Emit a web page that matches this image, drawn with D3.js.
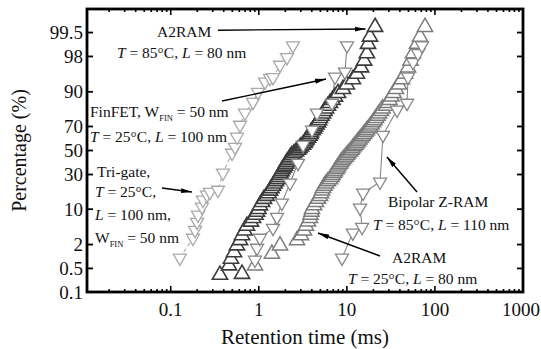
<!DOCTYPE html>
<html>
<head>
<meta charset="utf-8">
<script src="https://cdn.jsdelivr.net/npm/d3@7"></script>
<style>
  body { margin: 0; background: #fff; }
  text { font-family: "Liberation Serif", serif; fill: #111; }
</style>
</head>
<body>
<svg></svg>
<script>
// A2RAM, T = 85°C, L = 80 nm (up triangles, left band)
const a2ram85Time = [0.362, 0.645, 0.459, 0.483, 0.523, 0.565, 0.612, 0.645, 0.689, 0.734,
    0.815, 0.859, 0.917, 0.954, 0.992, 1.03, 1.087, 1.146, 1.223, 1.289,
    1.34, 1.394, 1.449, 1.507, 1.567, 1.631, 1.674, 1.718, 1.764, 1.811,
    1.858, 1.933, 1.984, 2.036, 2.09, 2.175, 2.232, 2.291, 2.383, 2.51,
    2.646, 2.787, 2.899, 3.015, 3.177, 3.304, 3.391, 3.481, 3.621, 3.765,
    3.865, 3.915, 4.072, 4.235, 4.35, 4.52, 4.70, 4.83, 4.95, 5.15,
    5.36, 5.57, 5.80, 6.10, 6.43, 6.87, 7.33, 7.93, 9.04, 10.0,
    11.7, 13.0, 14.5, 15.7, 16.9, 17.4, 18.3, 20.9];
const a2ram85Pct = [0.33, 0.35, 0.6, 0.9, 1.3, 1.9, 2.5, 3.2, 4, 5,
    6, 7, 8, 9, 10, 11.5, 13, 14.5, 16, 17.5,
    19, 20.5, 22, 23.5, 25, 26.5, 28, 29.5, 31, 32.5,
    34, 35.5, 37, 38.5, 40, 41.5, 43, 44.5, 46, 47.5,
    49, 50.5, 52, 53.5, 55, 56.5, 58, 59.5, 61, 62.5,
    64, 65.5, 67, 68.5, 70, 71.5, 73, 74.5, 76, 77.5,
    79, 80.5, 82, 83.5, 85, 86.5, 88, 89.5, 91, 92.5,
    94, 95.3, 96.5, 97.5, 98.3, 99.0, 99.35, 99.65];

// A2RAM, T = 25°C, L = 80 nm (up triangles, right band)
const a2ram25Time = [0.905, 1.41, 1.74, 2.716, 3.015, 3.26, 3.435, 3.62, 3.81, 3.865,
    3.965, 4.02, 4.24, 4.46, 4.70, 4.95, 5.09, 5.22, 5.36, 5.57,
    5.80, 6.10, 6.43, 6.69, 6.87, 7.14, 7.33, 7.63, 7.83, 8.04,
    8.36, 8.58, 8.92, 9.28, 9.65, 10.04, 10.4, 10.9, 11.3, 11.6,
    12.05, 12.5, 13.0, 13.4, 13.9, 14.5, 15.05, 15.65, 16.3, 16.9,
    17.6, 18.3, 19.05, 19.8, 20.6, 21.4, 22.3, 23.2, 24.4, 25.4,
    27.8, 29.3, 30.5, 32.1, 33.9, 36.1, 39.1, 42.3, 45.7, 49.5,
    52.8, 56.4, 62.6, 67.7, 77.1];
const a2ram25Pct = [0.6, 1.2, 1.9, 2.5, 3.2, 4, 5, 6, 7, 8,
    9, 10, 11.5, 13, 14.5, 16, 17.5, 19, 20.5, 22,
    23.5, 25, 26.5, 28, 29.5, 31, 32.5, 34, 35.5, 37,
    38.5, 40, 41.5, 43, 44.5, 46, 47.5, 49, 50.5, 52,
    53.5, 55, 56.5, 58, 59.5, 61, 62.5, 64, 65.5, 67,
    68.5, 70, 71.5, 73, 74.5, 76, 77.5, 79, 80.5, 82,
    83.5, 85, 86.5, 88, 89.5, 91, 92.5, 94, 95.3, 96.5,
    97.5, 98.3, 99.0, 99.35, 99.65];

// Tri-gate, T = 25°C, L = 100 nm, W_FIN = 50 nm
const trigateTime = [0.127, 0.179, 0.189, 0.199, 0.204, 0.226, 0.232, 0.258, 0.279, 0.344,
    0.392, 0.497, 0.537, 0.566, 0.612, 0.697, 0.859, 0.979, 1.176, 1.34,
    1.449, 1.74, 2.09, 2.44];
const trigatePct = [0.95, 2.8, 4.1, 5.9, 7.96, 10.9, 14.0, 16.6, 18.2, 19.4,
    31.2, 47.8, 53.0, 61.6, 71.1, 79.4, 85.5, 89.9, 93.3, 94.3,
    94.5, 96.9, 97.9, 98.9];

// FinFET, W_FIN = 50 nm, T = 25°C, L = 100 nm
const finfetTime = [0.905, 0.954, 1.03, 1.45, 1.61, 1.83, 2.26, 2.79, 3.18, 4.02,
    4.58, 6.78, 7.33, 9.52, 10.04];
const finfetPct = [0.84, 1.66, 2.8, 4.5, 7.3, 12.6, 23.9, 39.2, 54.8, 67.3,
    79.4, 85.0, 94.6, 95.7, 98.9];

// Bipolar Z-RAM, T = 85°C, L = 110 nm
const zramTime = [8.81, 11.7, 14.9, 14.1, 15.3, 23.8, 25.7, 37.1, 48.2, 49.5,
    56.4, 64.2, 71.3];
const zramPct = [0.95, 3.6, 4.7, 10.5, 17.7, 24.6, 63.2, 81.2, 85.0, 94.6,
    97.3, 98.3, 98.9];

const xTicks = [0.1, 1, 10, 100, 1000];
const xTickLabels = ["0.1", "1", "10", "100", "1000"];
const yTicks = [0.1, 0.5, 2, 10, 30, 50, 70, 90, 98, 99.5];
const yTickLabels = ["0.1", "0.5", "2", "10", "30", "50", "70", "90", "98", "99.5"];

// inverse normal CDF (Acklam)
function probit(p) {
    const a = [-3.969683028665376e+01, 2.209460984245205e+02, -2.759285104469687e+02, 1.383577518672690e+02, -3.066479806614716e+01, 2.506628277459239e+00];
    const b = [-5.447609879822406e+01, 1.615858368580409e+02, -1.556989798598866e+02, 6.680131188771972e+01, -1.328068155288572e+01];
    const c = [-7.784894002430293e-03, -3.223964580411365e-01, -2.400758277161838e+00, -2.549732539343734e+00, 4.374664141464968e+00, 2.938163982698783e+00];
    const d = [7.784695709041462e-03, 3.224671290700398e-01, 2.445134137142996e+00, 3.754408661907416e+00];
    const pl = 0.02425;
    let q, r;
    if (p < pl) {
        q = Math.sqrt(-2 * Math.log(p));
        return (((((c[0] * q + c[1]) * q + c[2]) * q + c[3]) * q + c[4]) * q + c[5]) / ((((d[0] * q + d[1]) * q + d[2]) * q + d[3]) * q + 1);
    }
    if (p > 1 - pl) {
        q = Math.sqrt(-2 * Math.log(1 - p));
        return -(((((c[0] * q + c[1]) * q + c[2]) * q + c[3]) * q + c[4]) * q + c[5]) / ((((d[0] * q + d[1]) * q + d[2]) * q + d[3]) * q + 1);
    }
    q = p - 0.5;
    r = q * q;
    return (((((a[0] * r + a[1]) * r + a[2]) * r + a[3]) * r + a[4]) * r + a[5]) * q / (((((b[0] * r + b[1]) * r + b[2]) * r + b[3]) * r + b[4]) * r + 1);
}

const width = 541, height = 349;
const plotLeft = 87, plotRight = 523, plotTop = 9, plotBottom = 292;

const x = d3.scaleLog().domain([0.0112, 1000]).range([plotLeft, plotRight]);
const z = d3.scaleLinear().domain([probit(0.001), probit(0.999)]).range([plotBottom, plotTop]);
const y = p => z(probit(p / 100));

const svg = d3.select("svg")
    .attr("width", width)
    .attr("height", height);

const zip = (t, p) => t.map((v, i) => ({ t: v, p: p[i] }));

const series = [
    { pts: zip(a2ram85Time, a2ram85Pct), up: true, color: "#3c3c3c", sw: 1.6, line: false },
    { pts: zip(a2ram25Time, a2ram25Pct), up: true, color: "#7c7c7c", sw: 1.5, line: false },
    { pts: zip(trigateTime, trigatePct), up: false, color: "#a9a9a9", sw: 1.3, line: "4,3" },
    { pts: zip(finfetTime, finfetPct), up: false, color: "#888", sw: 1.3, line: "none" },
    { pts: zip(zramTime, zramPct), up: false, color: "#888", sw: 1.3, line: "none" }
];

const upTri = d3.symbol(d3.symbolTriangle, 100)();
const downTri = d3.symbol(d3.symbolTriangle, 74)();

const plot = svg.append("g").attr("id", "plot");

// connecting lines of the sparse series
series.filter(s => s.line).forEach(s => {
    plot.append("path")
        .datum(s.pts)
        .attr("fill", "none")
        .attr("stroke", s.color)
        .attr("stroke-width", 1.1)
        .attr("stroke-dasharray", s.line)
        .attr("d", d3.line().x(d => x(d.t)).y(d => y(d.p)));
});

// markers
series.forEach(s => {
    plot.append("g")
        .selectAll("path")
        .data(s.pts)
        .enter()
        .append("path")
        .attr("d", s.up ? upTri : downTri)
        .attr("transform", d => `translate(${x(d.t)},${y(d.p)})` + (s.up ? "" : " rotate(180)"))
        .attr("fill", "#fff")
        .attr("stroke", s.color)
        .attr("stroke-width", s.sw);
});

// frame + ticks
const axes = svg.append("g").attr("id", "axes");

const logTicks = x.ticks();
logTicks.forEach(v => {
    const major = Math.abs(Math.log10(v) - Math.round(Math.log10(v))) < 1e-9;
    const len = major ? 6 : 3;
    axes.append("line")
        .attr("x1", x(v)).attr("x2", x(v))
        .attr("y1", plotBottom).attr("y2", plotBottom - len)
        .attr("stroke", "#000").attr("stroke-width", 1.6);
    axes.append("line")
        .attr("x1", x(v)).attr("x2", x(v))
        .attr("y1", plotTop).attr("y2", plotTop + len)
        .attr("stroke", "#000").attr("stroke-width", 1.6);
});

yTicks.forEach(v => {
    axes.append("line")
        .attr("x1", plotLeft).attr("x2", plotLeft + 6)
        .attr("y1", y(v)).attr("y2", y(v))
        .attr("stroke", "#000").attr("stroke-width", 1.8);
    axes.append("line")
        .attr("x1", plotRight).attr("x2", plotRight - 6)
        .attr("y1", y(v)).attr("y2", y(v))
        .attr("stroke", "#000").attr("stroke-width", 1.8);
});

axes.append("rect")
    .attr("x", plotLeft).attr("y", plotTop)
    .attr("width", plotRight - plotLeft).attr("height", plotBottom - plotTop)
    .attr("fill", "none")
    .attr("stroke", "#000")
    .attr("stroke-width", 2.8);

// tick labels
axes.append("g")
    .selectAll("text")
    .data(xTicks)
    .enter()
    .append("text")
    .attr("x", (d, i) => i === xTicks.length - 1 ? width - 1 : x(d))
    .attr("y", plotBottom + 24)
    .attr("text-anchor", (d, i) => i === xTicks.length - 1 ? "end" : "middle")
    .attr("font-size", 19)
    .text((d, i) => xTickLabels[i]);

axes.append("g")
    .selectAll("text")
    .data(yTicks)
    .enter()
    .append("text")
    .attr("x", plotLeft - 4)
    .attr("y", d => y(d) + 6.5)
    .attr("text-anchor", "end")
    .attr("font-size", 19)
    .text((d, i) => yTickLabels[i]);

// axis titles
svg.append("text")
    .attr("transform", `translate(26 ${(plotTop + plotBottom) / 2}) rotate(-90)`)
    .attr("text-anchor", "middle")
    .attr("font-size", 20)
    .text("Percentage (%)");

svg.append("text")
    .attr("x", 305)
    .attr("y", 344)
    .attr("text-anchor", "middle")
    .attr("font-size", 21)
    .text("Retention time (ms)");

// annotations
const defs = svg.append("defs");
defs.append("marker")
    .attr("id", "arrow")
    .attr("viewBox", "0 0 11 6")
    .attr("refX", 11).attr("refY", 3)
    .attr("markerWidth", 11).attr("markerHeight", 6)
    .attr("markerUnits", "userSpaceOnUse")
    .attr("orient", "auto")
    .append("path")
    .attr("d", "M0,0.5 L11,3 L0,5.5 Z")
    .attr("fill", "#000");

const arrows = [
    [[0.344, 99.57], [16.3, 99.6]],
    [[0.382, 86.0], [5.8, 94.07]],
    [[0.0796, 20.6], [0.174, 18.2]],
    [[62.6, 18.2], [28.5, 44.4]],
    [[23.8, 1.06], [4.7, 3.58]]
];

svg.append("g")
    .selectAll("line")
    .data(arrows)
    .enter()
    .append("line")
    .attr("x1", d => x(d[0][0])).attr("y1", d => y(d[0][1]))
    .attr("x2", d => x(d[1][0])).attr("y2", d => y(d[1][1]))
    .attr("stroke", "#000")
    .attr("stroke-width", 1.4)
    .attr("marker-end", "url(#arrow)");

const cond = (temp, len) => [["T", "i"], [" = " + temp + "°C, "], ["L", "i"], [" = " + len + " nm"]];

const notes = [
    { x: 157, y: 37, parts: [["A2RAM"]] },
    { x: 117, y: 58, parts: cond("85", "80") },
    { x: 90, y: 117, parts: [["FinFET, W"], ["FIN", "s"], [" = 50 nm"]] },
    { x: 90, y: 142, parts: cond("25", "100") },
    { x: 97, y: 177, parts: [["Tri-gate,"]] },
    { x: 95, y: 197, parts: [["T", "i"], [" = 25°C,"]] },
    { x: 95, y: 220, parts: [["L", "i"], [" = 100 nm,"]] },
    { x: 95, y: 243, parts: [["W"], ["FIN", "s"], [" = 50 nm"]] },
    { x: 388, y: 207, parts: [["Bipolar Z-RAM"]] },
    { x: 373, y: 230, parts: cond("85", "110") },
    { x: 392, y: 263, parts: [["A2RAM"]] },
    { x: 348, y: 284, parts: cond("25", "80") }
];

notes.forEach(n => {
    const t = svg.append("text")
        .attr("x", n.x)
        .attr("y", n.y)
        .attr("font-size", 15.5);
    let sub = false;
    n.parts.forEach(p => {
        const ts = t.append("tspan").text(p[0]);
        if (p[1] === "i") ts.attr("font-style", "italic");
        if (p[1] === "s") {
            ts.attr("font-size", 8.5).attr("dy", 4);
            sub = true;
        } else if (sub) {
            ts.attr("dy", -4);
            sub = false;
        }
    });
});
</script>
</body>
</html>
